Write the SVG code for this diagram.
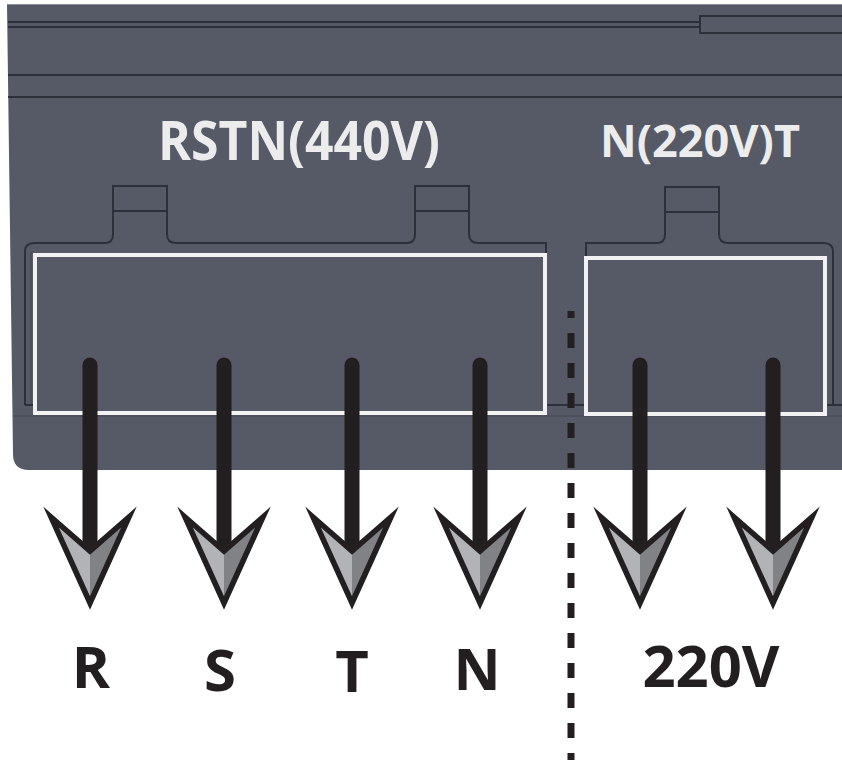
<svg xmlns="http://www.w3.org/2000/svg" xmlns:xlink="http://www.w3.org/1999/xlink" width="842" height="760" viewBox="0 0 842 760">
  <style>
    .edge { fill: none; stroke: #2c3039; stroke-width: 2; }
    .faint { fill: none; stroke: #474c57; stroke-width: 1.5; }
    .slot { fill: none; stroke: #f2f2f2; stroke-width: 4; }
    .shaft { stroke: #231f20; stroke-width: 15; stroke-linecap: round; }
    .title { font-family: "Open Sans", "Liberation Sans", sans-serif; font-weight: 700; fill: #ececec; }
    .label { font-family: "Open Sans", "Liberation Sans", sans-serif; font-weight: 700; fill: #231f20; text-anchor: middle; }
  </style>
  <defs>
    <g id="head">
      <polygon points="-39,-34 0,0 0,52" fill="#b1b3b6"/>
      <polygon points="39,-34 0,0 0,52" fill="#808285"/>
      <polygon points="-39,-34 0,0 39,-34 0,52" fill="none" stroke="#231f20" stroke-width="5.5" stroke-linejoin="miter" stroke-miterlimit="6"/>
    </g>
  </defs>

  <rect width="842" height="760" fill="#ffffff"/>

  <g id="housing">
    <path d="M7,4 L842,4 L842,470 L29,470 Q13,470 13,454 Z" fill="#555a66"/>
    <path d="M7,4.5 L842,4.5" stroke="#8a8e97" stroke-width="1"/>
    <path class="edge" d="M8,22 L700,22 M8,27 L700,27"/>
    <path class="edge" d="M842,16 L700,16 L700,33 L842,33"/>
    <path class="edge" d="M8,75 L842,75 M8,97 L842,97"/>
    <path class="faint" d="M14,416 L842,416"/>
  </g>

  <g id="terminal-block-440">
    <path class="edge" d="M25,405 L25,252 Q25,243 34,243 L105,243 Q113,243 113,234 L113,186 L167,186 L167,234 Q167,243 176,243 L407,243 Q415,243 415,234 L415,186 L469,186 L469,234 Q469,243 478,243 L546,243 L546,405"/>
    <path class="edge" d="M113,211 L167,211 M415,211 L469,211"/>
    <path class="faint" d="M31,405 L31,252"/>
    <path class="edge" d="M25,405 L35,405 M546,405 L586,405"/>
    <rect class="slot" x="35" y="255" width="510" height="158"/>
  </g>

  <g id="terminal-block-220">
    <path class="edge" d="M586,405 L586,243 L657,243 Q665,243 665,234 L665,187 L719,187 L719,234 Q719,243 728,243 L824,243 Q833,243 833,252 L833,405"/>
    <path class="edge" d="M665,212 L719,212"/>
    <path class="edge" d="M825,405 L842,405"/>
    <rect class="slot" x="586" y="258" width="239" height="156"/>
  </g>

  <g id="titles">
    <text class="title" x="158" y="160" font-size="54" textLength="282" lengthAdjust="spacingAndGlyphs">RSTN(440V)</text>
    <text class="title" x="600" y="157" font-size="45" textLength="200" lengthAdjust="spacingAndGlyphs">N(220V)T</text>
  </g>

  <g id="separator">
    <line x1="571" y1="311" x2="571" y2="760" stroke="#231f20" stroke-width="7" stroke-dasharray="15 15" stroke-dashoffset="8"/>
  </g>

  <g id="connectors">
    <g id="arrow-R"><line class="shaft" x1="90" y1="365" x2="90" y2="550"/><use xlink:href="#head" x="90" y="551"/></g>
    <g id="arrow-S"><line class="shaft" x1="224" y1="365" x2="224" y2="550"/><use xlink:href="#head" x="224" y="551"/></g>
    <g id="arrow-T"><line class="shaft" x1="352" y1="365" x2="352" y2="550"/><use xlink:href="#head" x="352" y="551"/></g>
    <g id="arrow-N"><line class="shaft" x1="480" y1="365" x2="480" y2="550"/><use xlink:href="#head" x="480" y="551"/></g>
    <g id="arrow-220a"><line class="shaft" x1="640" y1="365" x2="640" y2="550"/><use xlink:href="#head" x="640" y="551"/></g>
    <g id="arrow-220b"><line class="shaft" x1="773" y1="365" x2="773" y2="550"/><use xlink:href="#head" x="773" y="551"/></g>
  </g>

  <g id="labels">
    <text class="label" x="91" y="688" font-size="58">R</text>
    <text class="label" x="220" y="691" font-size="58">S</text>
    <text class="label" x="352" y="692" font-size="58">T</text>
    <text class="label" x="477" y="690" font-size="58">N</text>
    <text class="label" x="711" y="687" font-size="58" textLength="137" lengthAdjust="spacingAndGlyphs">220V</text>
  </g>
</svg>
